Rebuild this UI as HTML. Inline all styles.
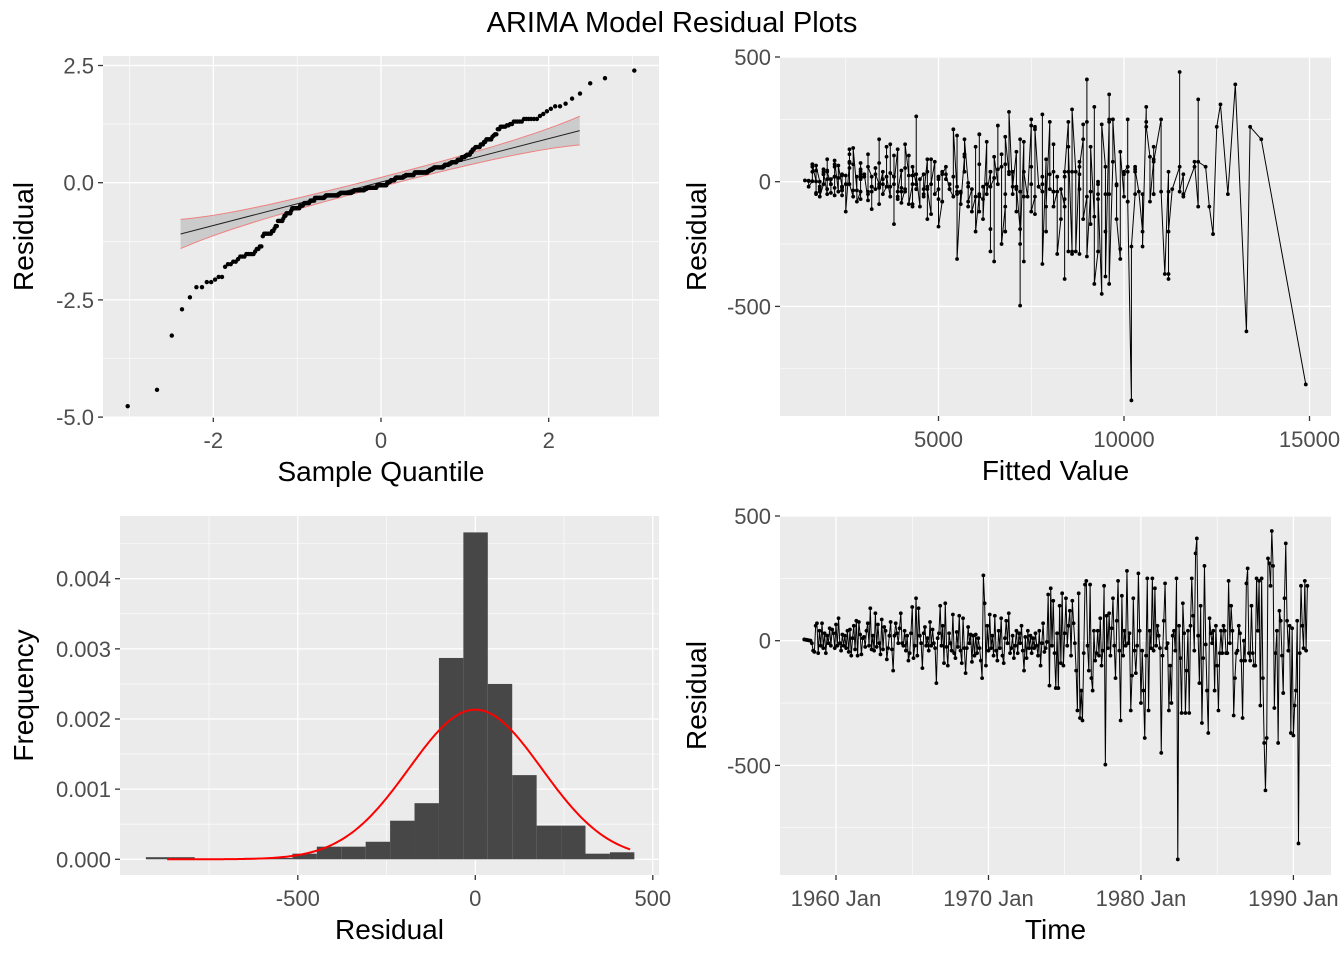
<!DOCTYPE html>
<html><head><meta charset="utf-8">
<style>
html,body{margin:0;padding:0;background:#fff;}
svg{display:block;font-family:"Liberation Sans",Arial,sans-serif;}
</style></head>
<body>
<svg id="fig" width="1344" height="960" viewBox="0 0 1344 960" xmlns="http://www.w3.org/2000/svg">
<text x="672" y="32" text-anchor="middle" font-size="29" fill="#000">ARIMA Model Residual Plots</text>
<g id="root"></g>
</svg>
<script>
// ===== data =====
const startYear = 1957 + 11/12;
const residualSigma = 184;
const residuals = [
5,4,3,2,1,0,-10,-40,-45,60,70,-50,
40,-20,70,-30,30,-50,20,-10,50,-20,45,30,
-30,65,-20,90,-10,-40,25,-20,20,-30,40,-45,
45,-60,10,60,-35,80,-60,75,25,-55,10,15,
-25,40,70,-20,130,-35,20,-40,110,-25,65,-10,
-55,85,-35,55,40,-75,-30,20,75,-35,-120,20,
70,30,-10,50,110,-10,-20,40,-40,20,-80,-50,
30,135,-70,-20,170,-60,130,20,-10,-110,30,55,
-20,10,-40,75,-20,45,-10,-30,-170,10,30,140,
-20,60,-90,150,-25,-100,30,-10,-40,105,-50,-70,
35,-25,100,-40,-90,90,-30,-130,-30,55,-10,25,
-85,20,-60,25,-50,10,-30,-80,-150,262,150,-100,
60,-40,105,-30,20,-60,100,-40,-80,40,-30,90,
-60,-90,10,80,-10,110,-50,-30,20,-70,-20,40,
-50,30,-10,60,-40,-120,15,-70,40,-30,20,-50,
10,-30,30,-20,-60,40,-100,-10,70,-45,-30,-5,
185,-180,210,-20,160,-50,-190,30,-190,140,-90,190,
-100,30,170,-20,60,120,-60,160,70,-10,-120,-280,
190,-310,-200,-320,-50,225,240,-20,-120,225,-150,-200,
40,-80,-50,40,-60,90,-100,-40,220,-497,100,-30,
110,-60,50,170,-20,-150,80,240,-40,-320,180,-60,
40,-20,280,-10,30,-280,-140,170,-40,-130,-20,270,
40,-250,-40,-200,-390,-60,250,-280,40,-30,250,-40,
210,-20,60,20,-30,-450,-60,80,230,-30,-10,-280,
-100,-250,20,40,-40,250,-877,60,-70,-290,150,30,
-290,-120,40,-290,60,250,100,-40,350,410,20,-170,
140,-330,-70,300,-15,-200,-370,90,30,-10,40,-200,
60,-100,-280,-50,40,-50,60,40,-50,-50,240,-10,
140,40,-300,-150,-50,-40,60,30,-80,-310,0,-80,
230,290,-50,-80,140,-50,-100,-100,250,40,240,-260,
250,-150,-410,-600,-390,330,310,220,440,300,-270,-50,
40,-410,120,80,-60,-210,170,390,80,-40,60,-370,
50,-380,-260,-200,80,-813,-50,220,60,-30,240,-40,
220
];
const fittedHundreds = [
14,15,15,16,17,18,19,18,17,16,16,17,
16,15,16,18,19,20,22,21,19,18,17,19,
18,17,18,20,21,23,25,24,22,20,19,21,
20,18,20,22,24,26,27,26,24,22,21,23,
22,20,22,24,26,28,30,29,26,24,23,25,
24,22,24,26,29,31,33,32,29,27,25,28,
27,24,26,29,31,34,36,35,32,29,28,31,
29,27,29,32,34,37,39,38,35,32,30,33,
32,29,31,34,37,40,43,41,38,35,33,36,
34,31,34,37,40,43,46,44,41,38,35,39,
37,34,36,40,43,47,50,48,44,41,38,42,
40,36,39,43,46,50,53,51,47,44,41,45,
43,39,42,46,50,54,57,55,51,47,44,48,
46,42,45,49,53,57,61,59,54,50,47,51,
49,44,48,52,56,61,65,62,57,53,50,55,
52,47,51,55,60,64,68,66,61,56,53,58,
55,50,54,58,63,68,72,69,64,60,56,61,
58,52,57,62,67,71,76,73,68,63,59,64,
61,55,60,65,70,75,80,77,71,66,62,68,
64,58,63,69,73,79,84,81,76,72,65,71,
67,61,66,72,77,83,88,85,78,73,68,74,
70,64,69,75,80,86,92,89,82,76,71,78,
73,67,72,79,84,90,96,93,86,80,75,81,
76,70,75,82,88,94,100,97,89,83,78,85,
79,72,78,85,91,97,102,101,93,86,81,88,
82,75,81,88,95,101,107,104,96,90,84,91,
85,78,84,92,98,105,111,108,100,93,87,95,
88,81,87,95,101,108,115,112,103,96,90,98,
91,84,90,98,105,112,119,116,107,99,93,101,
94,86,93,101,108,116,123,120,110,103,96,105,
97,89,96,133,112,120,126,125,115,106,99,108,
100,92,99,108,116,124,137,130,119,110,103,112,
103,95,102,112,120,149,128,134,122,113,106,115,
106
];
const histBinStart = -928;
const histBinWidth = 68.8;
const histDensities = [0.00003,0.00003,0,0,0.00002,0.00002,0.00008,0.00018,0.00018,0.00025,0.00055,0.0008,0.00287,0.00466,0.0025,0.0012,0.00048,0.00048,0.00008,0.0001];
const normalMean = 0;
const normalSd = 187;
const normalFrom = -868;
const normalTo = 436;

const qqXTicks = [-2,0,2];
const qqXMinor = [-3,-1,1,3];
const qqYTicks = [2.5,0,-2.5,-5];
const qqYTickLabels = ["2.5","0.0","-2.5","-5.0"];
const qqYMinor = [1.25,-1.25,-3.75];
const fitXTicks = [5000,10000,15000];
const fitXMinor = [2500,7500,12500];
const resYTicks = [500,0,-500];
const resYMinor = [250,-250,-750];
const histXTicks = [-500,0,500];
const histXMinor = [-750,-250,250];
const histYTicks = [0,0.001,0.002,0.003,0.004];
const histYTickLabels = ["0.000","0.001","0.002","0.003","0.004"];
const histYMinor = [0.0005,0.0015,0.0025,0.0035,0.0045];
const timeXTicks = [1960,1970,1980,1990];
const timeXTickLabels = ["1960 Jan","1970 Jan","1980 Jan","1990 Jan"];
const timeXMinor = [1965,1975,1985];

// ===== helpers =====
const NS = "http://www.w3.org/2000/svg";
const root = document.getElementById('root');
function mk(tag, attrs, parent){
  const el = document.createElementNS(NS, tag);
  for (const k in attrs) el.setAttribute(k, attrs[k]);
  (parent||root).appendChild(el);
  return el;
}
function linScale(d0,d1,r0,r1){ return v => r0 + (v-d0)*(r1-r0)/(d1-d0); }

function panel(name, P, xs, ys, xMaj, xMin, xLab, yMaj, yMin, yLab, xTitle, yTitle){
  const g = mk('g',{});
  
  
  const bg = mk('rect',{x:P.l,y:P.t,width:P.r-P.l,height:P.b-P.t,fill:'#ebebeb'},g);
  
  
  xMin.forEach(v=>{ const l = mk('line',{x1:xs(v),x2:xs(v),y1:P.t,y2:P.b,stroke:'#fff','stroke-width':0.6},g);
    
     });
  yMin.forEach(v=>{ const l = mk('line',{x1:P.l,x2:P.r,y1:ys(v),y2:ys(v),stroke:'#fff','stroke-width':0.6},g);
    
     });
  xMaj.forEach((v,i)=>{
    const x = xs(v);
    const l = mk('line',{x1:x,x2:x,y1:P.t,y2:P.b,stroke:'#fff','stroke-width':1.3},g);
    
    
    const t = mk('line',{x1:x,x2:x,y1:P.b,y2:P.b+5,stroke:'#333','stroke-width':1.3},g);
    
    
    const tx = mk('text',{x:x,y:P.b+31,'text-anchor':'middle','font-size':22,fill:'#4d4d4d'},g);
    tx.textContent = xLab[i];
    
    
  });
  yMaj.forEach((v,i)=>{
    const y = ys(v);
    const l = mk('line',{x1:P.l,x2:P.r,y1:y,y2:y,stroke:'#fff','stroke-width':1.3},g);
    
    
    const t = mk('line',{x1:P.l-5,x2:P.l,y1:y,y2:y,stroke:'#333','stroke-width':1.3},g);
    
    
    const tx = mk('text',{x:P.l-9,y:y+8,'text-anchor':'end','font-size':22,fill:'#4d4d4d'},g);
    tx.textContent = yLab[i];
    
    
  });
  const xt = mk('text',{x:(P.l+P.r)/2,y:P.b+64,'text-anchor':'middle','font-size':28,fill:'#000'},g);
  xt.textContent = xTitle;
  
  
  const yx = P.yTitleX, yy=(P.t+P.b)/2;
  const yt = mk('text',{x:yx,y:yy,'text-anchor':'middle','font-size':28,fill:'#000',transform:`rotate(-90 ${yx} ${yy})`},g);
  yt.textContent = yTitle;
  
  
  return g;
}

// ===== QQ plot =====
function qnorm(p){
  const a=[-39.69683028665376,220.9460984245205,-275.9285104469687,138.3577518672690,-30.66479806614716,2.506628277459239];
  const b=[-54.47609879822406,161.5858368580409,-155.6989798598866,66.80131188771972,-13.28068155288572];
  const c=[-0.007784894002430293,-0.3223964580411365,-2.400758277161838,-2.549732539343734,4.374664141464968,2.938163982698783];
  const d=[0.007784695709041462,0.3224671290700398,2.445134137142996,3.754408661907416];
  const pl=0.02425;
  if(p<pl){const q=Math.sqrt(-2*Math.log(p));return (((((c[0]*q+c[1])*q+c[2])*q+c[3])*q+c[4])*q+c[5])/((((d[0]*q+d[1])*q+d[2])*q+d[3])*q+1);}
  if(p>1-pl){const q=Math.sqrt(-2*Math.log(1-p));return -(((((c[0]*q+c[1])*q+c[2])*q+c[3])*q+c[4])*q+c[5])/((((d[0]*q+d[1])*q+d[2])*q+d[3])*q+1);}
  const q=p-0.5,r=q*q;return (((((a[0]*r+a[1])*r+a[2])*r+a[3])*r+a[4])*r+a[5])*q/(((((b[0]*r+b[1])*r+b[2])*r+b[3])*r+b[4])*r+1);
}
function dnorm(z){return Math.exp(-z*z/2)/Math.sqrt(2*Math.PI);}
(function(){
  const P={l:103,r:659,t:56,b:417,yTitleX:33};
  const xs=linScale(0,2,381,548.7), ys=linScale(0,2.5,182.7,65.5);
  const g = panel('qq-plot-panel',P,xs,ys,qqXTicks,qqXMinor,qqXTicks.map(String),qqYTicks,qqYMinor,qqYTickLabels,'Sample Quantile','Residual');
  const n=residuals.length;
  const samp=residuals.map(v=>v/residualSigma).sort((a,b)=>a-b);
  const theo=samp.map((_,i)=>qnorm((i+0.5)/n));
  const q1=samp[Math.floor(0.25*(n-1))], q3=samp[Math.floor(0.75*(n-1))];
  const t1=qnorm(0.25), t3=qnorm(0.75);
  const slope=(q3-q1)/(t3-t1), inter=(q1+q3)/2;
  const lo=-2.39, hi=2.37, steps=60;
  let up=[],dn=[];
  for(let k=0;k<=steps;k++){
    const z=lo+(hi-lo)*k/steps;
    const p=0.5*(1+Math.tanh(z*0.7978845608*(1+0.044715*z*z)));
    const se=3.4*slope/dnorm(z)*Math.sqrt(p*(1-p)/n);
    const m=inter+slope*z;
    up.push([xs(z),ys(m+se)]); dn.push([xs(z),ys(m-se)]);
  }
  const band=mk('polygon',{points:up.concat(dn.slice().reverse()).map(p=>p.join(',')).join(' '),fill:'#bdbdbd','fill-opacity':0.7},g);
  
  
  const bu=mk('polyline',{points:up.map(p=>p.join(',')).join(' '),fill:'none',stroke:'#f08080','stroke-width':1},g);
  
  
  const bd=mk('polyline',{points:dn.map(p=>p.join(',')).join(' '),fill:'none',stroke:'#f08080','stroke-width':1},g);
  
  
  const ln=mk('line',{x1:xs(lo),y1:ys(inter+slope*lo),x2:xs(hi),y2:ys(inter+slope*hi),stroke:'#222','stroke-width':1},g);
  
  
  samp.forEach((v,i)=>{
    const c=mk('circle',{cx:xs(theo[i]),cy:ys(v),r:2.2,fill:'#000'},g);
    
    
  });
})();

// ===== Residual vs fitted =====
(function(){
  const P={l:780,r:1331,t:57,b:416,yTitleX:706};
  const xs=linScale(5000,10000,938.5,1124), ys=linScale(0,500,181.7,57);
  const g = panel('fitted-residual-panel',P,xs,ys,fitXTicks,fitXMinor,fitXTicks.map(String),resYTicks,resYMinor,resYTicks.map(String),'Fitted Value','Residual');
  const idx=residuals.map((_,i)=>i).sort((a,b)=>fittedHundreds[a]-fittedHundreds[b]);
  const pts=idx.map(i=>[xs(fittedHundreds[i]*100),ys(residuals[i])]);
  const pl=mk('polyline',{points:pts.map(p=>p.join(',')).join(' '),fill:'none',stroke:'#000','stroke-width':1},g);
  
  
  pts.forEach(p=>{
    const c=mk('circle',{cx:p[0],cy:p[1],r:1.9,fill:'#000'},g);
    
    
  });
})();

// ===== Histogram =====
(function(){
  const P={l:120,r:659,t:516,b:875,yTitleX:33};
  const xs=linScale(-500,500,297.8,652.8), ys=linScale(0,0.001,859.3,789.15);
  const g = panel('histogram-panel',P,xs,ys,histXTicks,histXMinor,histXTicks.map(String),histYTicks,histYMinor,histYTickLabels,'Residual','Frequency');
  histDensities.forEach((d,i)=>{
    const x0=histBinStart+i*histBinWidth;
    const r=mk('rect',{x:xs(x0),y:ys(d),width:xs(x0+histBinWidth)-xs(x0),height:ys(0)-ys(d),fill:'#474747'},g);
    
    
  });
  let pts=[];
  for(let k=0;k<=200;k++){
    const v=normalFrom+(normalTo-normalFrom)*k/200;
    const z=(v-normalMean)/normalSd;
    pts.push([xs(v),ys(dnorm(z)/normalSd)]);
  }
  const c=mk('polyline',{points:pts.map(p=>p.join(',')).join(' '),fill:'none',stroke:'#ff0000','stroke-width':2},g);
  
  
})();

// ===== Time series =====
(function(){
  const P={l:780,r:1331,t:516,b:875,yTitleX:706};
  const xs=linScale(1960,1990,836,1293.4), ys=linScale(0,500,640.7,516);
  const g = panel('time-residual-panel',P,xs,ys,timeXTicks,timeXMinor,timeXTickLabels,resYTicks,resYMinor,resYTicks.map(String),'Time','Residual');
  const pts=residuals.map((v,i)=>[xs(startYear+i/12),ys(v)]);
  const pl=mk('polyline',{points:pts.map(p=>p.join(',')).join(' '),fill:'none',stroke:'#000','stroke-width':1},g);
  
  
  pts.forEach(p=>{
    const c=mk('circle',{cx:p[0],cy:p[1],r:1.9,fill:'#000'},g);
    
    
  });
})();
</script>
</body></html>
